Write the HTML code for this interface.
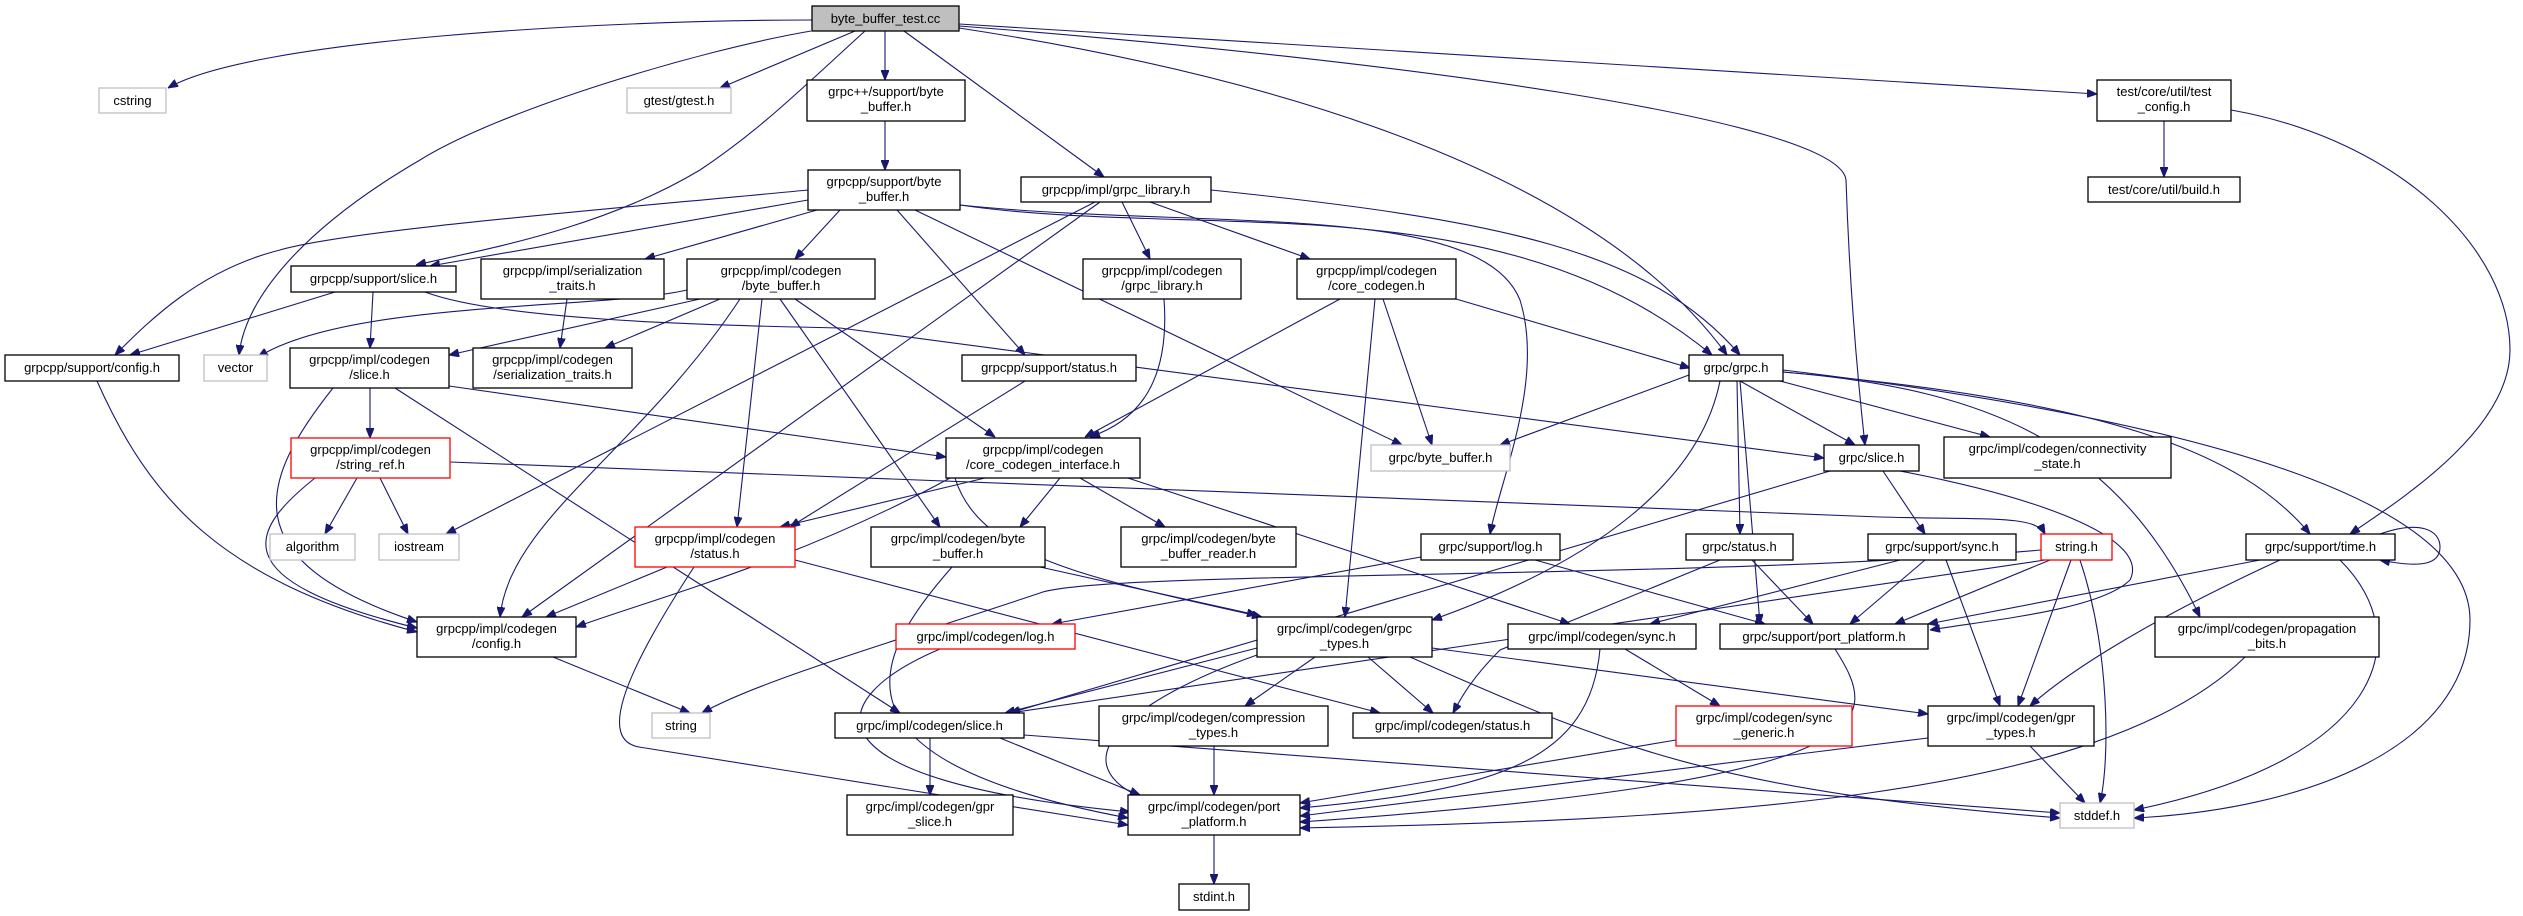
<!DOCTYPE html>
<html><head><meta charset="utf-8"><style>
html,body{margin:0;padding:0;background:#fff;}
svg{display:block}
text{font-family:"Liberation Sans",sans-serif;font-size:13px;fill:#000;text-anchor:middle}
.n{fill:#fff;stroke:#000;stroke-width:1.3}
.g{fill:#fff;stroke:#bfbfbf;stroke-width:1.3}
.r{fill:#fff;stroke:#ff0000;stroke-width:1.3}
.e path{fill:none;stroke:#191970;stroke-width:1.1;marker-end:url(#a)}
</style></head><body>
<svg width="2523" height="916" viewBox="0 0 2523 916" xmlns="http://www.w3.org/2000/svg">
<defs><marker id="a" viewBox="0 0 10 8" refX="10" refY="4" markerWidth="10" markerHeight="8" markerUnits="userSpaceOnUse" orient="auto"><path d="M0,0 L10,4 L0,8 z" fill="#191970" stroke="#191970"/></marker></defs>
<g class="e">
<path d="M812,20 C600,20 250,40 168,88"/>
<path d="M865,31 C800,90 760,130 700,170 C600,230 480,250 416,265"/>
<path d="M855,31 L720,88"/>
<path d="M811,31 C700,50 500,110 420,160 C300,230 245,300 239,355"/>
<path d="M885,31 L885,80"/>
<path d="M904,31 L1104,177"/>
<path d="M959,28 C1300,80 1600,180 1727,355"/>
<path d="M959,26 C1400,60 1840,120 1846,180 C1850,300 1860,400 1865,445"/>
<path d="M959,24 L2097,94"/>
<path d="M885,121 L885,170"/>
<path d="M808,190 C600,210 350,230 280,250 C200,270 150,320 115,355"/>
<path d="M808,200 L430,266"/>
<path d="M817,210 L645,259"/>
<path d="M840,210 L795,259"/>
<path d="M897,210 L1025,355"/>
<path d="M915,210 L1402,445"/>
<path d="M960,205 C1200,240 1500,180 1712,355"/>
<path d="M960,205 C1200,230 1480,200 1520,300 C1545,380 1500,480 1490,534"/>
<path d="M1095,202 L446,534"/>
<path d="M1100,202 L522,617"/>
<path d="M1122,202 L1150,259"/>
<path d="M1150,202 L1310,259"/>
<path d="M1211,190 C1500,220 1650,250 1740,355"/>
<path d="M335,292 L130,355"/>
<path d="M373,292 L370,348"/>
<path d="M425,292 C500,320 700,325 840,328 L1824,458"/>
<path d="M567,299 L560,348"/>
<path d="M687,290 C600,310 350,300 258,357"/>
<path d="M700,299 L449,355"/>
<path d="M720,299 L605,348"/>
<path d="M740,299 C640,450 510,520 500,617"/>
<path d="M762,299 L737,527"/>
<path d="M780,299 L940,527"/>
<path d="M795,299 L995,437"/>
<path d="M1164,299 C1170,380 1140,420 1090,437"/>
<path d="M1340,299 L1085,437"/>
<path d="M1375,299 L1345,617"/>
<path d="M1383,299 L1432,445"/>
<path d="M1456,299 L1690,368"/>
<path d="M1025,381 L790,527"/>
<path d="M370,388 L370,438"/>
<path d="M333,388 C260,480 230,560 417,622"/>
<path d="M395,388 L900,713"/>
<path d="M449,386 L946,457"/>
<path d="M357,478 L325,534"/>
<path d="M380,478 L408,534"/>
<path d="M315,478 C250,530 220,580 417,628"/>
<path d="M450,462 L1880,517 C1990,520 2035,515 2045,534"/>
<path d="M97,381 C150,500 220,580 417,632"/>
<path d="M985,478 L780,527"/>
<path d="M1060,478 L1020,527"/>
<path d="M1080,478 L1165,527"/>
<path d="M950,478 C800,560 650,600 576,627"/>
<path d="M955,478 C980,560 1100,580 1262,617"/>
<path d="M1128,478 L1570,624"/>
<path d="M667,567 L546,617"/>
<path d="M694,567 C620,680 600,740 639,747 L1128,825"/>
<path d="M795,560 L1380,713"/>
<path d="M952,567 C870,660 820,760 1128,818"/>
<path d="M1040,567 L1257,615"/>
<path d="M553,657 L690,713"/>
<path d="M1421,557 L1052,624"/>
<path d="M1535,560 L1765,624"/>
<path d="M940,649 C820,700 800,780 1130,812"/>
<path d="M1257,648 L1005,713"/>
<path d="M1315,657 L1245,706"/>
<path d="M1368,657 L1433,713"/>
<path d="M1257,655 C1130,700 1060,760 1140,797"/>
<path d="M1432,648 L1928,714"/>
<path d="M1410,657 C1600,740 1700,790 2060,818"/>
<path d="M1214,746 L1214,795"/>
<path d="M930,738 L930,795"/>
<path d="M1000,738 L1140,795"/>
<path d="M1024,735 L2060,813"/>
<path d="M1600,649 C1590,760 1500,790 1300,808"/>
<path d="M1625,649 L1720,706"/>
<path d="M1676,740 L1300,803"/>
<path d="M1835,649 C1880,720 1900,780 1300,822"/>
<path d="M1214,835 L1214,884"/>
<path d="M1720,560 L1500,650 C1470,680 1460,700 1453,713"/>
<path d="M1752,560 L1813,624"/>
<path d="M1900,560 L1650,624"/>
<path d="M1925,560 L1850,624"/>
<path d="M1946,560 L2000,706"/>
<path d="M2050,560 L1895,624"/>
<path d="M2071,560 L2018,706"/>
<path d="M2080,560 C2110,650 2110,760 2100,803"/>
<path d="M2045,560 L1010,713"/>
<path d="M2041,550 C1700,580 1100,570 1040,593 C900,640 760,680 702,713"/>
<path d="M2380,534 C2420,520 2440,530 2440,547 C2440,565 2420,568 2380,560"/>
<path d="M2260,560 L1928,624"/>
<path d="M2280,560 C2150,620 2070,670 2030,706"/>
<path d="M2340,560 C2420,640 2380,760 2134,810"/>
<path d="M2245,657 C2100,800 1700,820 1300,828"/>
<path d="M1928,738 L1300,816"/>
<path d="M2030,746 L2085,803"/>
<path d="M1689,375 L1500,445"/>
<path d="M1740,381 L1855,445"/>
<path d="M1720,381 C1700,480 1600,560 1432,620"/>
<path d="M1740,381 L1760,624"/>
<path d="M1737,381 L1740,534"/>
<path d="M1780,381 L1990,437"/>
<path d="M1783,372 C2000,390 2120,450 2200,617"/>
<path d="M1783,372 C2100,400 2240,450 2310,534"/>
<path d="M1783,370 C2200,420 2470,500 2470,620 C2470,750 2300,810 2134,818"/>
<path d="M2164,121 L2164,177"/>
<path d="M2231,110 C2400,140 2510,250 2510,350 C2510,430 2400,500 2350,534"/>
<path d="M1883,471 L1925,534"/>
<path d="M1900,471 C2050,500 2150,540 2130,580 C2100,610 1990,620 1930,630"/>
<path d="M1830,471 L1010,713"/>
</g>
<g>
<rect x="812" y="6" width="147" height="25" fill="#bfbfbf" stroke="#000" stroke-width="1.3"/><text x="885.5" y="23">byte_buffer_test.cc</text>
<rect class="g" x="99" y="88" width="67" height="25"/><text x="132.5" y="105">cstring</text>
<rect class="g" x="627" y="88" width="104" height="25"/><text x="679" y="105">gtest/gtest.h</text>
<rect class="n" x="807" y="80" width="158" height="41"/><text x="886" y="96">grpc++/support/byte</text><text x="886" y="111">_buffer.h</text>
<rect class="n" x="808" y="170" width="152" height="40"/><text x="884" y="186">grpcpp/support/byte</text><text x="884" y="201">_buffer.h</text>
<rect class="n" x="1021" y="177" width="190" height="25"/><text x="1116" y="194">grpcpp/impl/grpc_library.h</text>
<rect class="n" x="2097" y="80" width="134" height="41"/><text x="2164" y="96">test/core/util/test</text><text x="2164" y="111">_config.h</text>
<rect class="n" x="2088" y="177" width="152" height="25"/><text x="2164" y="194">test/core/util/build.h</text>
<rect class="n" x="291" y="266" width="165" height="26"/><text x="373.5" y="283">grpcpp/support/slice.h</text>
<rect class="n" x="481" y="259" width="183" height="40"/><text x="572.5" y="275">grpcpp/impl/serialization</text><text x="572.5" y="290">_traits.h</text>
<rect class="n" x="687" y="259" width="188" height="40"/><text x="781" y="275">grpcpp/impl/codegen</text><text x="781" y="290">/byte_buffer.h</text>
<rect class="n" x="1083" y="259" width="158" height="40"/><text x="1162" y="275">grpcpp/impl/codegen</text><text x="1162" y="290">/grpc_library.h</text>
<rect class="n" x="1297" y="259" width="159" height="40"/><text x="1376.5" y="275">grpcpp/impl/codegen</text><text x="1376.5" y="290">/core_codegen.h</text>
<rect class="n" x="5" y="355" width="174" height="26"/><text x="92" y="372">grpcpp/support/config.h</text>
<rect class="g" x="204" y="355" width="63" height="26"/><text x="235.5" y="372">vector</text>
<rect class="n" x="290" y="348" width="159" height="40"/><text x="369.5" y="364">grpcpp/impl/codegen</text><text x="369.5" y="379">/slice.h</text>
<rect class="n" x="473" y="348" width="159" height="40"/><text x="552.5" y="364">grpcpp/impl/codegen</text><text x="552.5" y="379">/serialization_traits.h</text>
<rect class="n" x="962" y="355" width="174" height="26"/><text x="1049" y="372">grpcpp/support/status.h</text>
<rect class="n" x="1689" y="355" width="94" height="26"/><text x="1736" y="372">grpc/grpc.h</text>
<rect class="r" x="291" y="438" width="159" height="40"/><text x="370.5" y="454">grpcpp/impl/codegen</text><text x="370.5" y="469">/string_ref.h</text>
<rect class="n" x="946" y="438" width="194" height="40"/><text x="1043" y="454">grpcpp/impl/codegen</text><text x="1043" y="469">/core_codegen_interface.h</text>
<rect class="g" x="1371" y="445" width="139" height="26"/><text x="1440.5" y="462">grpc/byte_buffer.h</text>
<rect class="n" x="1824" y="445" width="95" height="26"/><text x="1871.5" y="462">grpc/slice.h</text>
<rect class="n" x="1944" y="437" width="227" height="41"/><text x="2057.5" y="453">grpc/impl/codegen/connectivity</text><text x="2057.5" y="468">_state.h</text>
<rect class="g" x="270" y="534" width="85" height="26"/><text x="312.5" y="551">algorithm</text>
<rect class="g" x="379" y="534" width="80" height="26"/><text x="419" y="551">iostream</text>
<rect class="r" x="635" y="527" width="160" height="40"/><text x="715" y="543">grpcpp/impl/codegen</text><text x="715" y="558">/status.h</text>
<rect class="n" x="871" y="527" width="174" height="40"/><text x="958" y="543">grpc/impl/codegen/byte</text><text x="958" y="558">_buffer.h</text>
<rect class="n" x="1121" y="527" width="175" height="40"/><text x="1208.5" y="543">grpc/impl/codegen/byte</text><text x="1208.5" y="558">_buffer_reader.h</text>
<rect class="n" x="1421" y="534" width="139" height="26"/><text x="1490.5" y="551">grpc/support/log.h</text>
<rect class="n" x="1686" y="534" width="107" height="26"/><text x="1739.5" y="551">grpc/status.h</text>
<rect class="n" x="1868" y="534" width="148" height="26"/><text x="1942" y="551">grpc/support/sync.h</text>
<rect class="r" x="2041" y="534" width="71" height="26"/><text x="2076.5" y="551">string.h</text>
<rect class="n" x="2246" y="534" width="149" height="26"/><text x="2320.5" y="551">grpc/support/time.h</text>
<rect class="n" x="417" y="617" width="159" height="40"/><text x="496.5" y="633">grpcpp/impl/codegen</text><text x="496.5" y="648">/config.h</text>
<rect class="r" x="896" y="624" width="179" height="25"/><text x="985.5" y="641">grpc/impl/codegen/log.h</text>
<rect class="n" x="1257" y="617" width="175" height="40"/><text x="1344.5" y="633">grpc/impl/codegen/grpc</text><text x="1344.5" y="648">_types.h</text>
<rect class="n" x="1508" y="624" width="188" height="25"/><text x="1602" y="641">grpc/impl/codegen/sync.h</text>
<rect class="n" x="1720" y="624" width="208" height="25"/><text x="1824" y="641">grpc/support/port_platform.h</text>
<rect class="n" x="2155" y="617" width="224" height="40"/><text x="2267" y="633">grpc/impl/codegen/propagation</text><text x="2267" y="648">_bits.h</text>
<rect class="g" x="652" y="713" width="58" height="25"/><text x="681" y="730">string</text>
<rect class="n" x="835" y="713" width="189" height="25"/><text x="929.5" y="730">grpc/impl/codegen/slice.h</text>
<rect class="n" x="1099" y="706" width="229" height="40"/><text x="1213.5" y="722">grpc/impl/codegen/compression</text><text x="1213.5" y="737">_types.h</text>
<rect class="n" x="1353" y="713" width="199" height="25"/><text x="1452.5" y="730">grpc/impl/codegen/status.h</text>
<rect class="r" x="1676" y="706" width="176" height="40"/><text x="1764" y="722">grpc/impl/codegen/sync</text><text x="1764" y="737">_generic.h</text>
<rect class="n" x="1928" y="706" width="166" height="40"/><text x="2011" y="722">grpc/impl/codegen/gpr</text><text x="2011" y="737">_types.h</text>
<rect class="n" x="847" y="795" width="166" height="40"/><text x="930" y="811">grpc/impl/codegen/gpr</text><text x="930" y="826">_slice.h</text>
<rect class="n" x="1128" y="795" width="172" height="40"/><text x="1214" y="811">grpc/impl/codegen/port</text><text x="1214" y="826">_platform.h</text>
<rect class="g" x="2060" y="803" width="74" height="25"/><text x="2097" y="820">stddef.h</text>
<rect class="n" x="1179" y="884" width="70" height="26"/><text x="1214" y="901">stdint.h</text>
</g>
</svg>
</body></html>
